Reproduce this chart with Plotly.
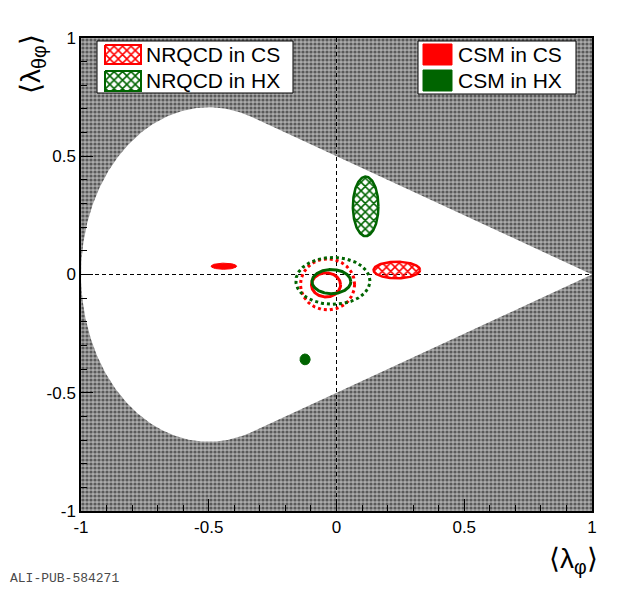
import numpy as np
import plotly.graph_objects as go

W, H = 620, 589
OFF = 8  # page body margin of the viewer; layout pixel positions are given in screen pixels

# ---------------- data ----------------
# ellipses: centre (lambda_phi, lambda_thetaphi) and semi-axes
csm_cs_center = (-0.441, 0.035)
csm_cs_axes = (0.050, 0.013)
csm_hx_center = (-0.123, -0.359)
csm_hx_axes = (0.020, 0.023)
nrqcd_cs_center = (0.236, 0.019)
nrqcd_cs_axes = (0.091, 0.035)
nrqcd_hx_center = (0.114, 0.288)
nrqcd_hx_axes = (0.050, 0.126)
data_cs_inner_center = (-0.041, -0.044)
data_cs_inner_axes = (0.057, 0.051)
data_hx_inner_center = (-0.020, -0.030)
data_hx_inner_axes = (0.076, 0.051)
data_cs_outer_center = (-0.035, -0.042)
data_cs_outer_axes = (0.106, 0.108)
data_hx_outer_center = (-0.014, -0.027)
data_hx_outer_axes = (0.145, 0.099)

# physically allowed region: ellipse (x+0.5)^2/0.25 + y^2/0.5 <= 1 joined to (1,0)
region_center_x = -0.5
region_axes = (0.5, np.sqrt(0.5))
region_tip = (1.0, 0.0)

tick_vals = [-1, -0.5, 0, 0.5, 1]
tick_text = ["-1", "-0.5", "0", "0.5", "1"]

legend_left = ["NRQCD in CS", "NRQCD in HX"]
legend_right = ["CSM in CS", "CSM in HX"]

RED = "#ff0000"
GREEN = "#006400"
FONT = "Liberation Sans"


def px(x):
    return (x - OFF) / W


def py(y):
    return 1 - (y - OFF) / H


def ellipse(center, axes, n=200):
    t = np.linspace(0, 2 * np.pi, n)
    return center[0] + axes[0] * np.cos(t), center[1] + axes[1] * np.sin(t)


fig = go.Figure()

# gray (forbidden) background
fig.add_trace(go.Scatter(
    x=[-1, 1, 1, -1, -1], y=[-1, -1, 1, 1, -1], mode="lines", fill="toself",
    line=dict(width=0), fillcolor="#a0a0a0",
    fillpattern=dict(shape=".", fgcolor="#5a5a5a", bgcolor="#ababab", size=4, solidity=0.5),
    hoverinfo="skip", showlegend=False))

# allowed region (white)
t0 = np.arccos((-1 / 3 - region_center_x) / region_axes[0])
tt = np.linspace(t0, 2 * np.pi - t0, 300)
rx = list(region_center_x + region_axes[0] * np.cos(tt)) + [region_tip[0]]
ry = list(region_axes[1] * np.sin(tt)) + [region_tip[1]]
rx.append(rx[0]); ry.append(ry[0])
fig.add_trace(go.Scatter(x=rx, y=ry, mode="lines", fill="toself", fillcolor="white",
                         line=dict(width=0, color="white"), hoverinfo="skip", showlegend=False))

# dashed zero lines
fig.add_trace(go.Scatter(x=[-1, 1], y=[0, 0], mode="lines",
                         line=dict(color="black", width=1, dash="4px,3px"),
                         hoverinfo="skip", showlegend=False))
fig.add_trace(go.Scatter(x=[0, 0], y=[-1, 1], mode="lines",
                         line=dict(color="black", width=1, dash="4px,3px"),
                         hoverinfo="skip", showlegend=False))

# CSM filled ellipses
for c, a, col in [(csm_cs_center, csm_cs_axes, RED), (csm_hx_center, csm_hx_axes, GREEN)]:
    ex, ey = ellipse(c, a)
    fig.add_trace(go.Scatter(x=ex, y=ey, mode="lines", fill="toself", fillcolor=col,
                             line=dict(color=col, width=1), hoverinfo="skip", showlegend=False))

HATCH = dict(shape="x", bgcolor="rgba(0,0,0,0)", size=6, solidity=0.45)

# NRQCD hatched ellipses
for c, a, col in [(nrqcd_cs_center, nrqcd_cs_axes, RED), (nrqcd_hx_center, nrqcd_hx_axes, GREEN)]:
    ex, ey = ellipse(c, a)
    fig.add_trace(go.Scatter(x=ex, y=ey, mode="lines", fill="toself", fillcolor="rgba(0,0,0,0)",
                             fillpattern=dict(HATCH, fgcolor=col),
                             line=dict(color=col, width=2.5), hoverinfo="skip", showlegend=False))

# measured contours
for c, a, col, dash in [
    (data_cs_outer_center, data_cs_outer_axes, RED, "3px,3px"),
    (data_hx_outer_center, data_hx_outer_axes, GREEN, "3px,3px"),
    (data_cs_inner_center, data_cs_inner_axes, RED, "solid"),
    (data_hx_inner_center, data_hx_inner_axes, GREEN, "solid"),
]:
    ex, ey = ellipse(c, a, 300)
    fig.add_trace(go.Scatter(x=ex, y=ey, mode="lines", line=dict(color=col, width=3, dash=dash),
                             hoverinfo="skip", showlegend=False))


# ---------------- legends drawn on a pixel overlay ----------------
def rect(x0, y0, x1, y1):
    return [x0, x1, x1, x0, x0], [y0, y0, y1, y1, y0]


def add_box(x0, y0, x1, y1, fill, line_col, lw, pattern=None):
    bx, by = rect(x0, y0, x1, y1)
    kw = {}
    if pattern is not None:
        kw["fillpattern"] = pattern
    fig.add_trace(go.Scatter(x=bx, y=by, xaxis="x2", yaxis="y2", mode="lines", fill="toself",
                             fillcolor=fill, line=dict(color=line_col, width=lw),
                             hoverinfo="skip", showlegend=False, **kw))


add_box(97, 41, 293, 93, "white", "black", 1)
add_box(418, 41, 576, 94, "white", "black", 1)
for (y0, y1), col in zip([(45, 64), (71, 91)], [RED, GREEN]):
    add_box(105, y0, 141, y1, "white", col, 2,
            pattern=dict(HATCH, fgcolor=col, bgcolor="white"))
for (y0, y1), col in zip([(44, 65), (70, 91)], [RED, GREEN]):
    add_box(423, y0, 452, y1, col, col, 1)

annotations = []
for txt, yc in zip(legend_left, [55, 81]):
    annotations.append(dict(text=txt, x=px(144), y=py(yc), xref="paper", yref="paper",
                            xanchor="left", yanchor="middle", showarrow=False,
                            font=dict(family=FONT, size=21, color="black")))
for txt, yc in zip(legend_right, [55, 81]):
    annotations.append(dict(text=txt, x=px(456), y=py(yc), xref="paper", yref="paper",
                            xanchor="left", yanchor="middle", showarrow=False,
                            font=dict(family=FONT, size=21, color="black")))

# axis titles
annotations.append(dict(text="⟨λ<sub>φ</sub>⟩", x=px(600), y=py(560), xref="paper", yref="paper",
                        xanchor="right", yanchor="middle", showarrow=False,
                        font=dict(family=FONT, size=28, color="black")))
annotations.append(dict(text="⟨λ<sub>θφ</sub>⟩", x=px(32), y=py(64), xref="paper", yref="paper",
                        xanchor="center", yanchor="middle", showarrow=False, textangle=-90,
                        font=dict(family=FONT, size=28, color="black")))
annotations.append(dict(text="ALI-PUB-584271", x=px(8), y=py(578), xref="paper", yref="paper",
                        xanchor="left", yanchor="middle", showarrow=False,
                        font=dict(family="Liberation Mono", size=13, color="#4a4a4a")))

axis_common = dict(range=[-1, 1], tickvals=tick_vals, ticktext=tick_text, ticks="inside",
                   ticklen=12, tickwidth=1, tickcolor="black", showgrid=False, zeroline=False,
                   showline=True, linecolor="black", linewidth=1.5, mirror=True, automargin=False,
                   tickfont=dict(family=FONT, size=17, color="black"),
                   minor=dict(dtick=0.1, ticks="inside", ticklen=6, tickcolor="black", showgrid=False))

fig.update_layout(
    template="none",
    width=W, height=H, margin=dict(l=0, r=0, t=0, b=0, pad=0), autosize=False,
    paper_bgcolor="white", plot_bgcolor="rgba(0,0,0,0)", showlegend=False,
    xaxis=dict(domain=[px(81), px(592)], anchor="y", **axis_common),
    yaxis=dict(domain=[py(511), py(38)], anchor="x", **axis_common),
    xaxis2=dict(domain=[0, 1], range=[OFF, W + OFF], visible=False, anchor="y2", fixedrange=True,
                automargin=False),
    yaxis2=dict(domain=[0, 1], range=[H + OFF, OFF], visible=False, anchor="x2", fixedrange=True,
                automargin=False),
    annotations=annotations,
)

fig.write_html("out.html")
